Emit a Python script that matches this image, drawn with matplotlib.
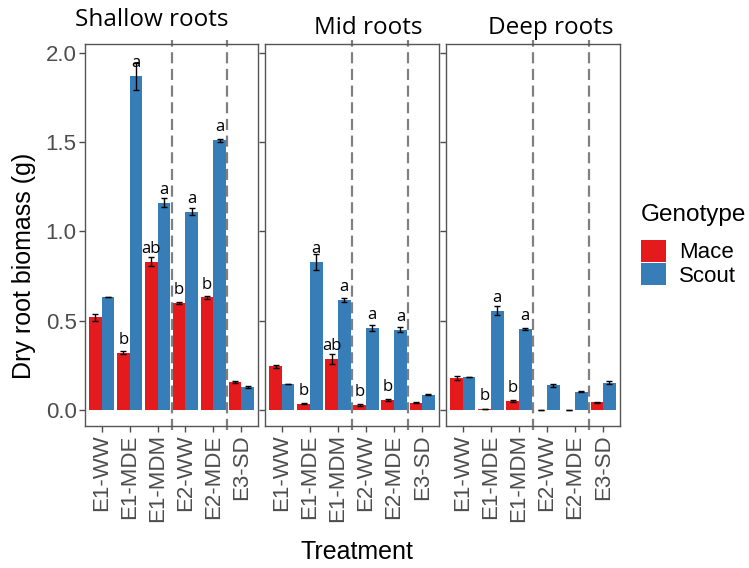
import matplotlib.pyplot as plt
import numpy as np

# Data
treatments = ["E1-WW", "E1-MDE", "E1-MDM", "E2-WW", "E2-MDE", "E3-SD"]
depths = ["Shallow roots", "Mid roots", "Deep roots"]

mace_shallow = [0.52, 0.32, 0.83, 0.60, 0.63, 0.155]
scout_shallow = [0.63, 1.87, 1.16, 1.11, 1.51, 0.13]
mace_shallow_se = [0.02, 0.008, 0.025, 0.005, 0.006, 0.005]
scout_shallow_se = [0.0, 0.075, 0.025, 0.02, 0.01, 0.005]

mace_mid = [0.245, 0.035, 0.285, 0.028, 0.056, 0.04]
scout_mid = [0.145, 0.83, 0.615, 0.46, 0.45, 0.085]
mace_mid_se = [0.008, 0.004, 0.03, 0.004, 0.006, 0.003]
scout_mid_se = [0.0, 0.045, 0.01, 0.015, 0.012, 0.004]

mace_deep = [0.178, 0.006, 0.05, 0.0, 0.0, 0.043]
scout_deep = [0.185, 0.555, 0.455, 0.138, 0.103, 0.152]
mace_deep_se = [0.01, 0.002, 0.008, 0.0, 0.0, 0.004]
scout_deep_se = [0.0, 0.025, 0.005, 0.008, 0.005, 0.008]

letters_mace = [
    ["", "b", "ab", "b", "b", ""],
    ["", "b", "ab", "b", "b", ""],
    ["", "b", "b", "", "", ""],
]
letters_scout = [
    ["", "a", "a", "a", "a", ""],
    ["", "a", "a", "a", "a", ""],
    ["", "a", "a", "", "", ""],
]

mace = [mace_shallow, mace_mid, mace_deep]
scout = [scout_shallow, scout_mid, scout_deep]
mace_se = [mace_shallow_se, mace_mid_se, mace_deep_se]
scout_se = [scout_shallow_se, scout_mid_se, scout_deep_se]

red = "#E41A1C"
blue = "#377EB8"
gray = "#4D4D4D"

plt.rcParams["font.family"] = ["Liberation Sans", "DejaVu Sans"]
letter_font = ["Open Sans", "DejaVu Sans"]

W, H = 749, 568
fig = plt.figure(figsize=(W / 100, H / 100), dpi=100)


def px(x0, y0, x1, y1):
    return [x0 / W, 1 - y1 / H, (x1 - x0) / W, (y1 - y0) / H]


panels = [(85, 258), (265, 439), (446, 620)]
x = np.arange(len(treatments))
bw = 0.45

for i, (l, r) in enumerate(panels):
    ax = fig.add_axes(px(l, 44, r, 426))
    ax.bar(x - bw / 2, mace[i], bw, color=red, label="Mace")
    ax.bar(x + bw / 2, scout[i], bw, color=blue, label="Scout")
    ax.errorbar(x - bw / 2, mace[i], yerr=mace_se[i], fmt="none",
                ecolor="black", elinewidth=1, capsize=2, capthick=1)
    ax.errorbar(x + bw / 2, scout[i], yerr=scout_se[i], fmt="none",
                ecolor="black", elinewidth=1, capsize=2, capthick=1)
    for j in range(len(treatments)):
        if letters_mace[i][j]:
            ax.text(x[j] - bw / 2, mace[i][j] + 0.05, letters_mace[i][j],
                    ha="center", va="baseline", fontsize=12,
                    family=letter_font)
        if letters_scout[i][j]:
            ax.text(x[j] + bw / 2, scout[i][j] + 0.05, letters_scout[i][j],
                    ha="center", va="baseline", fontsize=12,
                    family=letter_font)
    for xv in [2.5, 4.5]:
        ax.axvline(xv, color="#808080", ls=(0, (5, 2.5)), lw=1.6,
                   ymin=-0.01, ymax=1.01, clip_on=False)
    ax.set_xlim(-0.6, 5.6)
    ax.set_ylim(-0.09, 2.05)
    ax.set_yticks([0, 0.5, 1.0, 1.5, 2.0])
    ax.set_xticks(x)
    ax.set_xticklabels(treatments, rotation=90, fontsize=16, color=gray)
    if i == 0:
        ax.set_yticklabels(["0.0", "0.5", "1.0", "1.5", "2.0"],
                           fontsize=16, color=gray)
    else:
        ax.set_yticklabels([])
    ax.tick_params(color=gray, length=4, width=1, pad=2)
    for s in ax.spines.values():
        s.set_color("#555555")
        s.set_linewidth(1)

title_font = ["Open Sans", "DejaVu Sans"]
fig.text(152 / W, 1 - 26 / H, depths[0], ha="center", va="baseline",
         fontsize=17.5, family=title_font)
fig.text(368 / W, 1 - 34 / H, depths[1], ha="center", va="baseline",
         fontsize=17.5, family=title_font)
fig.text(551 / W, 1 - 34 / H, depths[2], ha="center", va="baseline",
         fontsize=17.5, family=title_font)

fig.text(24 / W, 1 - 266 / H, "Dry root biomass (g)", rotation=90,
         ha="center", va="center", fontsize=18)
fig.text(357 / W, 1 - 552 / H, "Treatment", ha="center", va="center",
         fontsize=18)

handles, labels = fig.axes[0].get_legend_handles_labels()
leg = fig.legend(handles, labels, title="Genotype", loc="upper left",
                 bbox_to_anchor=(641 / W, 1 - 204 / H), frameon=False,
                 fontsize=16, title_fontsize=17.5, handlelength=1.13,
                 handleheight=1.13, labelspacing=0.0, handletextpad=0.6,
                 borderpad=0, borderaxespad=0)
leg._legend_box.align = "left"
leg._legend_box.sep = 10

fig.savefig("out.png", dpi=100)
